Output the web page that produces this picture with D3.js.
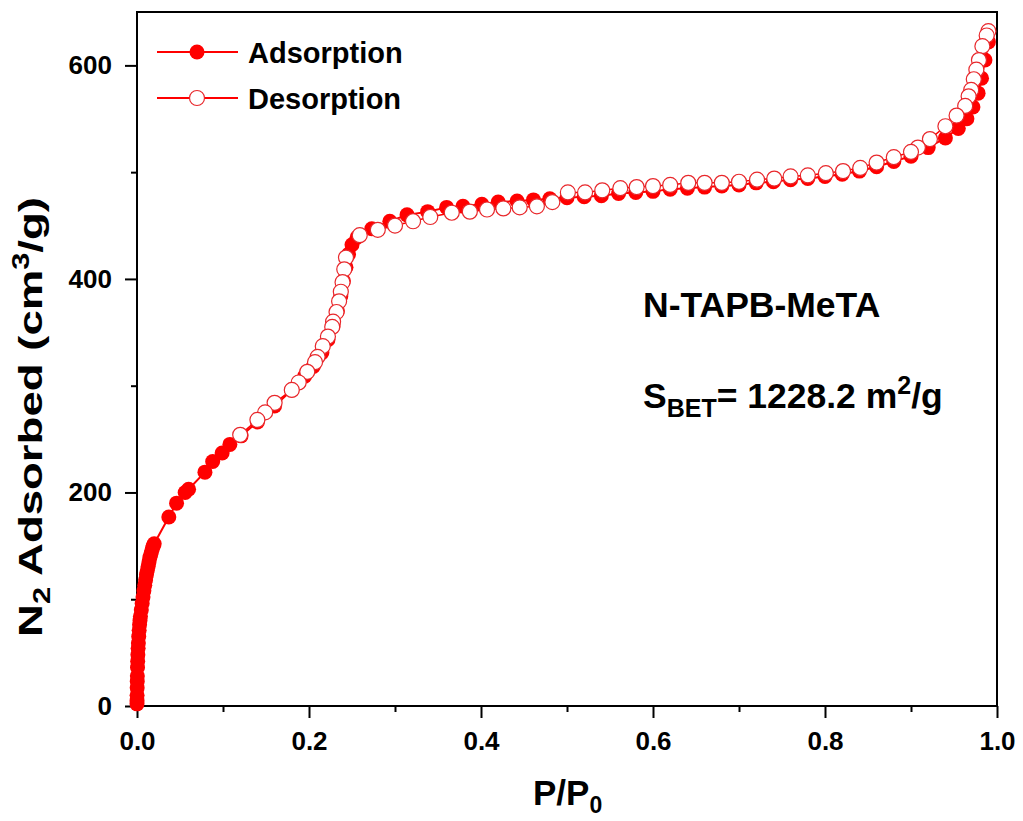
<!DOCTYPE html>
<html>
<head>
<meta charset="utf-8">
<script src="https://cdn.jsdelivr.net/npm/d3@7"></script>
<style>
	body { margin: 0; background: #fff; }
	svg text { font-family: "Liberation Sans", Arial, sans-serif; font-weight: bold; fill: #000; }
</style>
</head>
<body>
<div id="vis_container"></div>
<script>
// adsorption branch (P/P0, cm3/g)
var adsP = [0.00002,0.00005,0.0001,0.0002,0.0003,0.0004,0.0006,0.0008,0.001,0.0013,0.0016,0.002,0.0025,0.003,0.0035,0.004,0.005,0.006,0.007,0.008,0.009,0.010,0.011,0.012,0.013,0.014,0.015,0.016,0.017,0.018,0.019,0.020,
	0.037,0.046,0.056,0.060,0.079,0.088,0.099,0.108,0.121,0.14,0.16,0.18,0.195,0.205,0.215,0.222,0.228,0.233,0.237,0.240,0.243,0.246,0.250,0.256,
	0.273,0.294,0.314,0.338,0.360,0.379,0.401,0.420,0.442,0.461,0.480,0.500,0.520,0.540,0.560,0.580,0.600,0.620,0.640,0.660,0.680,0.700,0.720,0.740,0.760,0.780,0.800,0.820,0.840,
	0.860,0.880,0.900,0.920,0.940,0.955,0.965,0.972,0.978,0.982,0.986,0.990];
var adsV = [2,5,10,17,23,28,36,42,48,54,59,65,71,76,80,84,90,96,102,108,113,118,123,127,131,135,139,142,145,148,150,152,
	177,190,200,203,219,229,237,245,253,266,281,296,309,318,331,343,356,370,384,398,411,423,432,439,
	447,454,460,463,467,468,470,472,473,474,475,476,477,478,480,481,482,484,485,486,487,488,490,491,493,494,496,498,501,
	505,510,515,523,532,541,550,561,574,588,605,622];

// desorption branch, from high pressure down
var desP = [0.990,0.988,0.983,0.979,0.976,0.973,0.970,0.967,0.963,0.953,0.940,0.922,0.908,0.900,0.880,0.860,0.841,0.821,0.801,0.780,0.760,0.741,0.721,0.700,0.680,0.660,0.641,0.620,0.600,0.581,0.562,0.541,0.521,0.501,
	0.483,0.465,0.445,0.426,0.407,0.387,0.366,0.341,0.321,0.300,0.280,0.259,0.243,0.241,0.239,0.237,0.235,0.232,0.228,0.227,0.222,0.216,0.210,0.207,0.198,0.188,0.180,0.160,0.149,0.140,0.120];
var desV = [632,628,618,605,596,587,577,571,562,553,543,531,523,519,514,509,504,501,499,497,496,494,493,491,490,490,490,488,487,486,485,483,481,481,
	472,468,467,466,465,463,462,458,454,450,446,441,420,409,397,388,379,369,360,355,346,337,327,322,313,303,296,284,275,268,254];

var xTicks = [0, 0.2, 0.4, 0.6, 0.8, 1.0];
var yTicks = [0, 200, 400, 600];
var seriesNames = ["Adsorption", "Desorption"];

var chart = {};
chart.width = 1023;
chart.height = 821;
chart.margin = {"top": 12, "left": 137, "right": 26, "bottom": 115};
chart.red = "#ff0000";

chart.x = d3.scaleLinear()
	.domain([0, 1])
	.range([chart.margin.left, chart.width - chart.margin.right]);

chart.y = d3.scaleLinear()
	.domain([0, 650])
	.range([chart.height - chart.margin.bottom, chart.margin.top]);

chart.svg = d3.select("#vis_container").append("svg")
	.attr("width", chart.width)
	.attr("height", chart.height);

var ads = adsP.map(function(p, i) { return {x: p, y: adsV[i]}; });
var des = desP.map(function(p, i) { return {x: p, y: desV[i]}; });

chart.line = d3.line()
	.x(function(d) { return chart.x(d.x); })
	.y(function(d) { return chart.y(d.y); });

// frame
chart.svg.append("rect")
	.attr("x", chart.x(0))
	.attr("y", chart.y(650))
	.attr("width", chart.x(1) - chart.x(0))
	.attr("height", chart.y(0) - chart.y(650))
	.attr("fill", "none")
	.attr("stroke", "#000")
	.attr("stroke-width", 2);

// minor ticks
chart.svg.append("g")
	.attr("transform", "translate(0," + chart.y(0) + ")")
	.call(d3.axisBottom(chart.x).tickValues([0.1, 0.3, 0.5, 0.7, 0.9]).tickSize(6).tickFormat(""))
	.call(function(g) { g.select(".domain").remove(); g.selectAll("line").attr("stroke-width", 2); });

chart.svg.append("g")
	.attr("transform", "translate(" + chart.x(0) + ",0)")
	.call(d3.axisLeft(chart.y).tickValues([100, 300, 500]).tickSize(6).tickFormat(""))
	.call(function(g) { g.select(".domain").remove(); g.selectAll("line").attr("stroke-width", 2); });

// major ticks + labels
chart.xAxis = chart.svg.append("g")
	.attr("transform", "translate(0," + chart.y(0) + ")")
	.call(d3.axisBottom(chart.x).tickValues(xTicks).tickSize(12).tickPadding(14).tickFormat(d3.format(".1f")));
chart.xAxis.select(".domain").remove();
chart.xAxis.selectAll("line").attr("stroke-width", 2);
chart.xAxis.selectAll("text")
	.attr("font-size", 26)
	.attr("fill", "#000");

chart.yAxis = chart.svg.append("g")
	.attr("transform", "translate(" + chart.x(0) + ",0)")
	.call(d3.axisLeft(chart.y).tickValues(yTicks).tickSize(12).tickPadding(13).tickFormat(d3.format("d")));
chart.yAxis.select(".domain").remove();
chart.yAxis.selectAll("line").attr("stroke-width", 2);
chart.yAxis.selectAll("text")
	.attr("font-size", 26)
	.attr("fill", "#000");

// axis titles
chart.xTitle = chart.svg.append("text")
	.attr("x", 533)
	.attr("y", 805)
	.attr("font-size", 35);
chart.xTitle.append("tspan").text("P/P");
chart.xTitle.append("tspan").attr("font-size", 23).attr("dy", 8).text("0");

chart.yTitle = chart.svg.append("text")
	.attr("transform", "translate(42,417) rotate(-90) scale(1.34,1)")
	.attr("text-anchor", "middle")
	.attr("font-size", 34);
chart.yTitle.append("tspan").text("N");
chart.yTitle.append("tspan").attr("font-size", 23).attr("dy", 8).text("2");
chart.yTitle.append("tspan").attr("dy", -8).text(" Adsorbed (cm");
chart.yTitle.append("tspan").attr("font-size", 23).attr("dy", -13).text("3");
chart.yTitle.append("tspan").attr("dy", 13).text("/g)");

// curves
chart.svg.append("path")
	.datum(ads)
	.attr("d", chart.line)
	.attr("fill", "none")
	.attr("stroke", chart.red)
	.attr("stroke-width", 2);

chart.svg.selectAll(".adsPoint")
	.data(ads)
	.enter()
	.append("circle")
		.attr("class", "adsPoint")
		.attr("cx", function(d) { return chart.x(d.x); })
		.attr("cy", function(d) { return chart.y(d.y); })
		.attr("r", 7.5)
		.attr("fill", chart.red);

chart.svg.append("path")
	.datum(des)
	.attr("d", chart.line)
	.attr("fill", "none")
	.attr("stroke", chart.red)
	.attr("stroke-width", 1.5);

chart.svg.selectAll(".desPoint")
	.data(des)
	.enter()
	.append("circle")
		.attr("class", "desPoint")
		.attr("cx", function(d) { return chart.x(d.x); })
		.attr("cy", function(d) { return chart.y(d.y); })
		.attr("r", 7.5)
		.attr("fill", "#fff")
		.attr("stroke", "#e8272b")
		.attr("stroke-width", 1.2);

// legend
chart.legend = chart.svg.selectAll(".legendItem")
	.data(seriesNames)
	.enter()
	.append("g")
		.attr("class", "legendItem")
		.attr("transform", function(d, i) { return "translate(157," + (52 + i * 46) + ")"; });

chart.legend.append("line")
	.attr("x1", 0).attr("x2", 81)
	.attr("stroke", chart.red)
	.attr("stroke-width", 2);

chart.legend.append("circle")
	.attr("cx", 40)
	.attr("r", 7.5)
	.attr("fill", function(d, i) { return i == 0 ? chart.red : "#fff"; })
	.attr("stroke", function(d, i) { return i == 0 ? "none" : "#e8272b"; })
	.attr("stroke-width", 1.2);

chart.legend.append("text")
	.attr("x", 91)
	.attr("y", 11)
	.attr("font-size", 29)
	.text(function(d) { return d; });

// annotation
chart.svg.append("text")
	.attr("x", 643)
	.attr("y", 317)
	.attr("font-size", 35.5)
	.text("N-TAPB-MeTA");

chart.bet = chart.svg.append("text")
	.attr("x", 643)
	.attr("y", 408)
	.attr("font-size", 35.5);
chart.bet.append("tspan").text("S");
chart.bet.append("tspan").attr("font-size", 25).attr("dy", 9).text("BET");
chart.bet.append("tspan").attr("dy", -9).text("= 1228.2 m");
chart.bet.append("tspan").attr("font-size", 25).attr("dy", -14).text("2");
chart.bet.append("tspan").attr("dy", 14).text("/g");
</script>
</body>
</html>
